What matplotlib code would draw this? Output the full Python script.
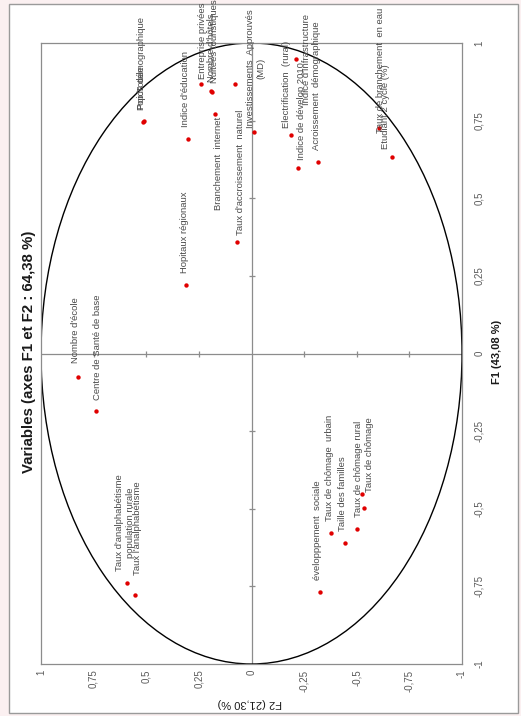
import matplotlib
matplotlib.use("Agg")
import matplotlib.pyplot as plt
from matplotlib.patches import Circle, Rectangle

# ---------------- data ----------------
variables = [
    "Pop.Totale", "Poids démographique", "Indice d'éducation", "Entreprise privées",
    "Nombre d'hôtels", "Nuitées touristiques", "Branchement  internet", "",
    "Investissements  Approuvés\n(MD)", "Taux d'accroissement  naturel", "Hopitaux régionaux",
    "Electrification  (rural)", "Indice de dévelop 2010", "Indice d'Infrastructure",
    "Acroissement  démographique", "Taux de branchement  en eau", "Etudiant 2 cycle (%)",
    "Nombre d'école", "Centre de Santé de base",
    "Taux d'analphabétisme\npopulation rurale", "Taux l'analphabétisme",
    "évelopppement  sociale", "Taux de chômage  urbain", "Taille des familles",
    "Taux de chômage rural", "", "Taux de chômage",
]
f1 = [0.746, 0.749, 0.691, 0.868, 0.845, 0.842, 0.771, 0.868,
      0.713, 0.359, 0.221, 0.703, 0.597, 0.948, 0.617, 0.726, 0.633,
      -0.076, -0.185, -0.739, -0.778,
      -0.768, -0.578, -0.610, -0.565, -0.452, -0.498]
f2 = [0.515, 0.511, 0.302, 0.240, 0.192, 0.188, 0.173, 0.078,
      -0.012, 0.069, 0.311, -0.188, -0.221, -0.211, -0.316, -0.606, -0.667,
      0.824, 0.739, 0.591, 0.553,
      -0.325, -0.380, -0.444, -0.499, -0.525, -0.534]

tick_values = [1, 0.75, 0.5, 0.25, 0, -0.25, -0.5, -0.75, -1]
tick_labels = ["1", "0,75", "0,5", "0,25", "0", "-0,25", "-0,5", "-0,75", "-1"]

title = "Variables (axes F1 et F2 : 64,38 %)"
xlabel_f1 = "F1 (43,08 %)"
ylabel_f2 = "F2 (21,30 %)"

# ---------------- style ----------------
plt.rcParams['font.family'] = ['Liberation Sans', 'DejaVu Sans']
W, H = 521, 716
fig = plt.figure(figsize=(W / 100, H / 100), dpi=100)
fig.patch.set_facecolor('#fbf0f1')
frame = Rectangle((9 / W, 1 - 713 / H), (518 - 9) / W, (713 - 4) / H,
                  transform=fig.transFigure, facecolor='white',
                  edgecolor='#9a9a9a', lw=1.0, zorder=-10)
fig.add_artist(frame)

ax = fig.add_axes([41 / W, (H - 664) / H, 421 / W, 621 / H])
ax.set_zorder(5)
ax.set_facecolor('white')
ax.set_xlim(1, -1)
ax.set_ylim(-1, 1)
for s in ax.spines.values():
    s.set_color('#8c8c8c')
    s.set_linewidth(0.9)

ax.set_xticks(tick_values)
ax.set_xticklabels(tick_labels, rotation=90, va='top', ha='center')
ax.yaxis.tick_right()
ax.set_yticks(tick_values)
ax.set_yticklabels(tick_labels, rotation=90, va='center', ha='left')
ax.tick_params(axis='x', length=0, pad=4, labelsize=7, labelcolor='#595959')
ax.tick_params(axis='y', length=0, pad=9, labelsize=7, labelcolor='#595959')

# zero lines with tick marks
ax.axhline(0, color='#8c8c8c', lw=0.9, zorder=1)
ax.axvline(0, color='#8c8c8c', lw=0.9, zorder=1)
inner = [t for t in tick_values if abs(t) not in (0, 1)]
ax.plot(inner, [0] * len(inner), ls='none', marker='|', ms=5, mew=0.9, color='#8c8c8c', zorder=1)
ax.plot([0] * len(inner), inner, ls='none', marker='_', ms=5, mew=0.9, color='#8c8c8c', zorder=1)

# unit circle (ellipse on screen)
ax.add_patch(Circle((0, 0), 1, transform=ax.transData, fill=False,
                    edgecolor='black', lw=1.0, zorder=2))

# points
ax.scatter(f2, f1, s=10, color='#e00000', zorder=4, linewidths=0)

# label placement (offsets in pixels: dx right, dy up; va)
offsets = {
    "Branchement  internet": (3, -3, 'top'),
    "Indice d'Infrastructure": (11, 0, 'center'),
    "Taux de branchement  en eau": (1, -5, 'bottom'),
    "Etudiant 2 cycle (%)": (-6, 8, 'bottom'),
    "Taux d'analphabétisme\npopulation rurale": (-2, 12, 'bottom'),
    "Taux l'analphabétisme": (2, 20, 'bottom'),
    "Investissements  Approuvés\n(MD)": (2, 4, 'bottom'),
    "Electrification  (rural)": (-5, 7, 'bottom'),
    "Indice de dévelop 2010": (3, 8, 'bottom'),
    "Entreprise privées": (2, 5, 'bottom'),
    "Nombre d'hôtels": (0, 9, 'bottom'),
    "Nuitées touristiques": (3, 9, 'bottom'),
    "Nombre d'école": (-3, 14, 'bottom'),
    "Centre de Santé de base": (2, 11, 'bottom'),
    "Taux de chômage": (6, 16, 'bottom'),
    "Taux de chômage rural": (2, 12, 'bottom'),
    "Taux d'accroissement  naturel": (4, 7, 'bottom'),
}
for lab, x, y in zip(variables, f2, f1):
    if not lab:
        continue
    dx, dy, va = offsets.get(lab, (-2, 12, 'bottom'))
    ax.annotate(lab, (x, y), xytext=(dx * 0.72, dy * 0.72), textcoords='offset points',
                rotation=90, ha='center', va=va, multialignment='center',
                fontsize=6.8, color='#4a4a4a', zorder=5)

fig.text(29 / W, 1 - 352 / H, title, rotation=90, ha='center', va='center',
         fontsize=10.8, fontweight='bold', color='#1a1a1a')
fig.text(497 / W, 1 - 352 / H, xlabel_f1, rotation=90, ha='center', va='center',
         fontsize=8, fontweight='bold', color='#1a1a1a')
fig.text(250 / W, 1 - 703 / H, ylabel_f2, rotation=180, ha='center', va='center',
         fontsize=8, color='#1a1a1a')

fig.savefig("out.png", dpi=100, facecolor=fig.get_facecolor())
